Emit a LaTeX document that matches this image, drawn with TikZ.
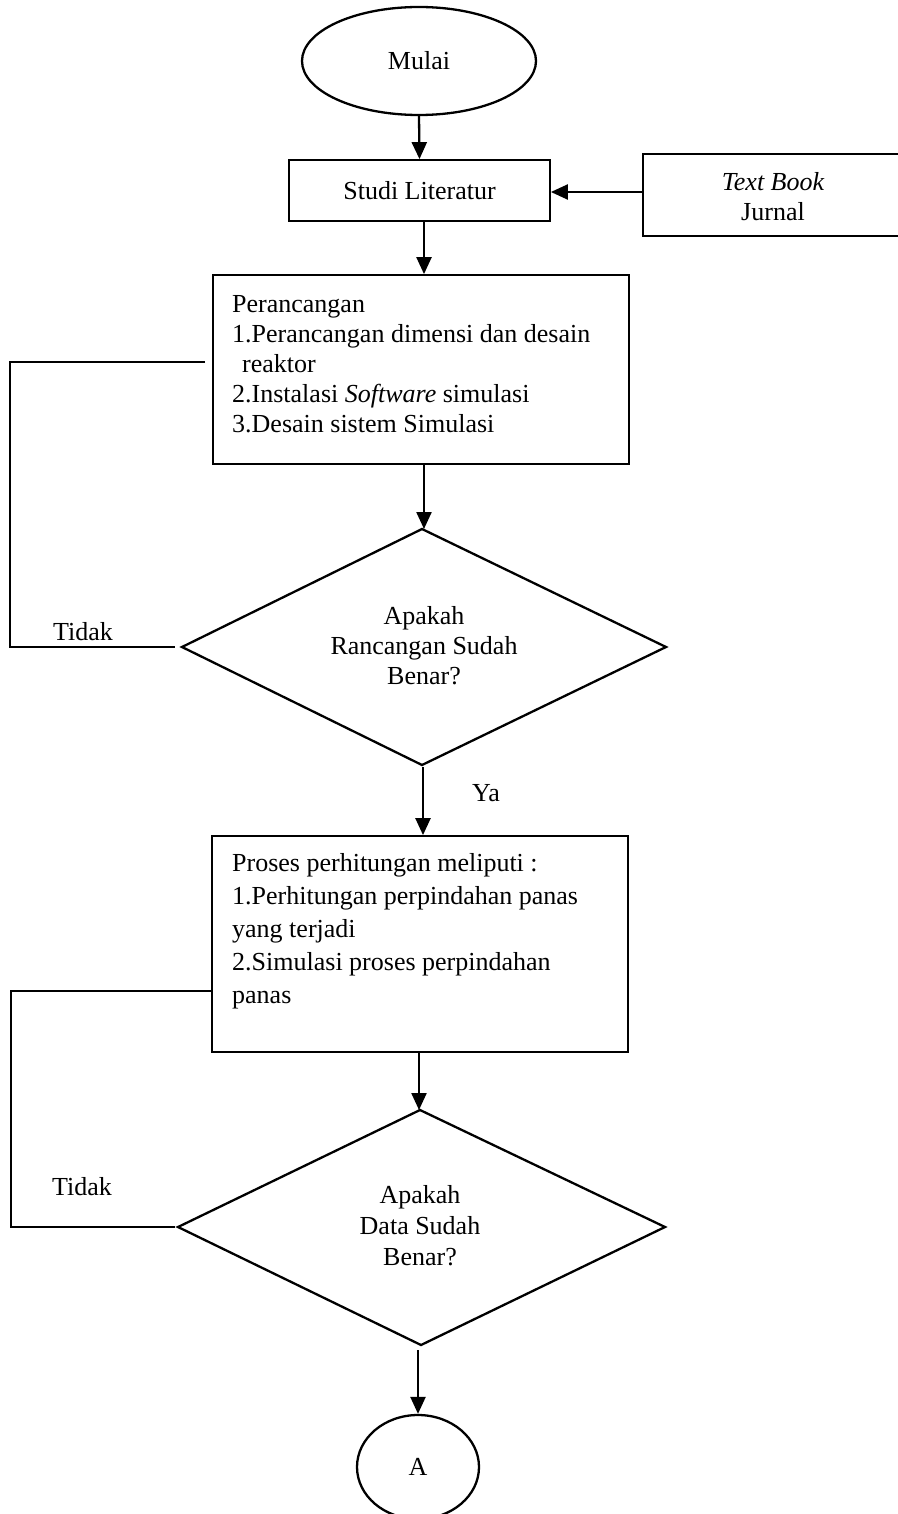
\documentclass[tikz,border=0pt]{standalone}
\usepackage{fontspec}
\setmainfont{Liberation Serif}
\usetikzlibrary{arrows.meta,shapes.geometric}
\begin{document}
\begin{tikzpicture}[x=1pt,y=-1pt,
  shapeline/.style={draw=black,line width=2.3pt},
  fbline/.style={draw=black,line width=1.4pt},
  flow/.style={draw=black,line width=2.3pt,-{Triangle[length=17pt,width=15pt]}},
  txt/.style={font=\fontsize{26}{30}\selectfont,inner sep=0pt},
  boxtext/.style={txt,align=left,anchor=north west}
]
\useasboundingbox (0,0) rectangle (897,1514);
\fill[white] (0,0) rectangle (897,1514);

% start ellipse
\node[shapeline,ellipse,minimum width=234pt,minimum height=108pt,inner sep=0pt,txt] (mulai) at (419,61) {Mulai};

% Studi Literatur box
\node[shapeline,line width=1.8pt,rectangle,minimum width=261pt,minimum height=61pt,txt] (studi) at (419.5,190.5) {Studi Literatur};

% Text Book box (runs off right edge)
\draw[shapeline,line width=1.8pt] (643,154) rectangle (920,236);
\coordinate (tbw) at (643,192);
\node[txt] (tb1) at (773,182) {\itshape Text Book};
\node[txt] (tb2) at (773,212) {Jurnal};

% Perancangan box
\node[shapeline,line width=1.8pt,rectangle,minimum width=416pt,minimum height=189pt,inner sep=0pt] (peran) at (421,369.5) {};
\node[boxtext] (pertext) at (232,295) {Perancangan\\
1.Perancangan dimensi dan desain\\
\hspace*{10pt}reaktor\\
2.Instalasi \textit{Software} simulasi\\
3.Desain sistem Simulasi};

% diamond 1
\coordinate (d1t) at (422,529);
\coordinate (d1l) at (182,647);
\coordinate (d1r) at (666,647);
\coordinate (d1b) at (422,765);
\draw[shapeline,line join=miter] (d1t) -- (d1r) -- (d1b) -- (d1l) -- cycle;
\node[txt,align=center] (d1text) at (424,646) {Apakah\\Rancangan Sudah\\Benar?};

% Proses box
\node[shapeline,line width=1.8pt,rectangle,minimum width=416pt,minimum height=216pt,inner sep=0pt] (proses) at (420,944) {};
\node[boxtext,font=\fontsize{26}{33}\selectfont] (protext) at (232,853) {Proses perhitungan meliputi :\\
1.Perhitungan perpindahan panas\\
yang terjadi\\
2.Simulasi proses perpindahan\\
panas};

% diamond 2
\coordinate (d2t) at (420,1110);
\coordinate (d2l) at (178,1227);
\coordinate (d2r) at (665,1227);
\coordinate (d2b) at (421,1345);
\draw[shapeline,line join=miter] (d2t) -- (d2r) -- (d2b) -- (d2l) -- cycle;
\node[txt,align=center,font=\fontsize{26}{31}\selectfont] (d2text) at (420,1226) {Apakah\\Data Sudah\\Benar?};

% end connector A
\node[shapeline,ellipse,minimum width=122pt,minimum height=104pt,inner sep=0pt,txt] (a) at (418,1467) {A};

% flow arrows
\draw[flow] (mulai.south) -- (studi.north);
\draw[flow] (tbw) -- (tbw -| studi.east);
\draw[flow] (studi.south -| 424,0) -- (peran.north -| 424,0);
\draw[flow] (peran.south -| 424,0) -- (d1t -| 424,0);
\coordinate (d1bs) at (423,767);
\draw[flow] (d1bs) -- (proses.north -| 423,0);
\node[txt] (ya) at (486,793) {Ya};
\draw[flow] (proses.south -| 419,0) -- (d2t -| 419,0);
\coordinate (d2bs) at (418,1350);
\draw[flow] (d2bs) -- (a.north);

% feedback 1
\coordinate (f1a) at (205,362);
\coordinate (f1b) at (10,362);
\coordinate (f1c) at (10,647);
\coordinate (f1d) at (175,647);
\draw[fbline] (f1a) -- (f1b) -- (f1c) -- (f1d);
\node[txt] (tidak1) at (83,632) {Tidak};

% feedback 2
\coordinate (f2a) at (212,991);
\coordinate (f2b) at (11,991);
\coordinate (f2c) at (11,1227);
\coordinate (f2d) at (175,1227);
\draw[fbline] (f2a) -- (f2b) -- (f2c) -- (f2d);
\node[txt] (tidak2) at (82,1187) {Tidak};
\end{tikzpicture}
\end{document}
